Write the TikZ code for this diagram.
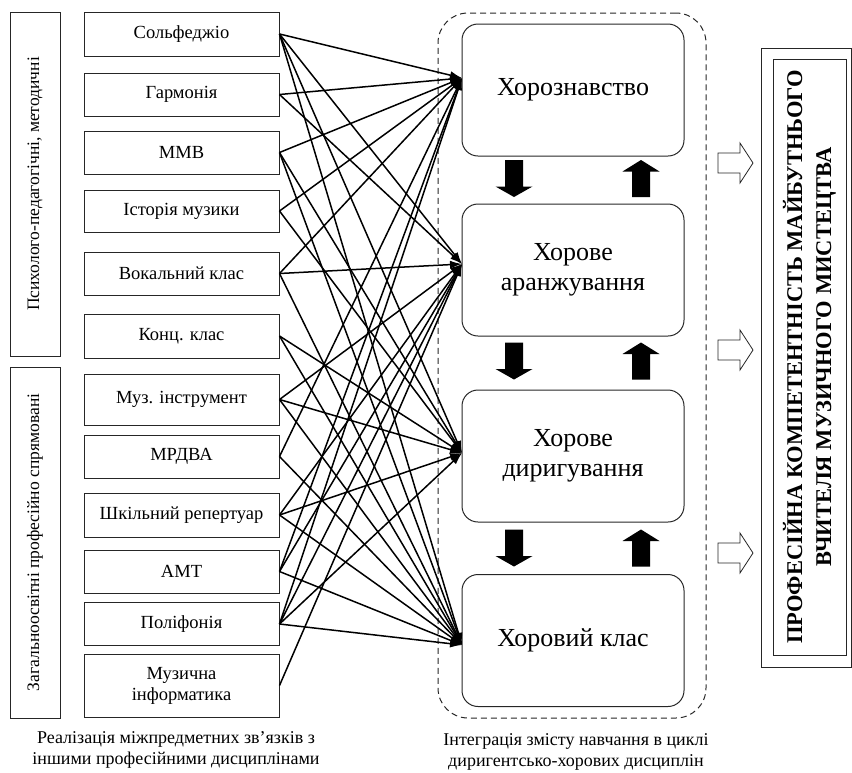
\documentclass[tikz,border=0pt]{standalone}
\usepackage{fontspec}
\setmainfont{Liberation Serif}
\usetikzlibrary{arrows.meta}

\begin{document}
\begin{tikzpicture}[x=1pt,y=-1pt,
    >={Latex[length=12pt,width=8pt]},
    subj/.style={draw=black!85, line width=1pt, minimum width=195pt, inner sep=2pt,
        align=center, font=\fontsize{18.5}{21}\selectfont},
    group/.style={draw=black!85, line width=1pt, rotate=90, minimum height=50pt,
        inner sep=2pt, font=\fontsize{17.5}{20}\selectfont},
    course/.style={draw=black!85, line width=1pt, rounded corners=16pt, minimum width=222pt,
        minimum height=132pt, align=center, font=\fontsize{26}{29.5}\selectfont},
    link/.style={->, line width=1.5pt},
    blockdown/.pic={\fill[black] (-9,-18.5) -- (9,-18.5) -- (9,8) -- (18.5,8) -- (0,18.5)
        -- (-18.5,8) -- (-9,8) -- cycle;},
    blockup/.pic={\fill[black] (-9,18.5) -- (9,18.5) -- (9,-7) -- (18.5,-7) -- (0,-18.5)
        -- (-18.5,-7) -- (-9,-7) -- cycle;},
    hollow/.pic={\draw[draw=black!85, fill=white, line width=0.8pt] (-17.5,-10) -- (4.5,-10)
        -- (4.5,-20) -- (17.5,0) -- (4.5,20) -- (4.5,10) -- (-17.5,10) -- cycle;},
    caption/.style={align=center, font=\fontsize{18}{21}\selectfont}]
    \useasboundingbox (0,0) rectangle (852,772);

    % groups of disciplines
    \node[group, minimum width=344pt] (grp1) at (35,184) {Психолого-педагогічні, методичні};
    \node[group, minimum width=351pt] (grp2) at (35,542.5) {Загальноосвітні професійно спрямовані};

    % disciplines
    \node[subj, minimum height=44pt] (s1) at (181.5,34) {Сольфеджіо};
    \node[subj, minimum height=43pt] (s2) at (181.5,94.5) {Гармонія};
    \node[subj, minimum height=43pt] (s3) at (181.5,152.5) {ММВ};
    \node[subj, minimum height=42pt] (s4) at (181.5,211) {Історія музики};
    \node[subj, minimum height=43pt] (s5) at (181.5,273.5) {Вокальний клас};
    \node[subj, minimum height=44pt] (s6) at (181.5,336) {Конц. клас};
    \node[subj, minimum height=51pt] (s7) at (181.5,399.5) {Муз. інструмент};
    \node[subj, minimum height=43pt] (s8) at (181.5,456.5) {МРДВА};
    \node[subj, minimum height=44pt] (s9) at (181.5,515) {Шкільний репертуар};
    \node[subj, minimum height=43pt] (s10) at (181.5,571.5) {АМТ};
    \node[subj, minimum height=43pt] (s11) at (181.5,624) {Поліфонія};
    \node[subj, minimum height=63pt] (s12) at (181.5,685.5) {Музична\\інформатика};

    % choral cycle
    \node[draw=black!85, dashed, dash pattern=on 6pt off 4pt, line width=1pt, rounded corners=30pt,
        minimum width=268pt, minimum height=705pt] (cycle) at (572,365.5) {};
    \node[course] (c1) at (573,90) {Хорознавство};
    \node[course] (c2) at (573,270) {Хорове\\аранжування};
    \node[course] (c3) at (573,456) {Хорове\\диригування};
    \node[course] (c4) at (573,640.5) {Хоровий клас};

    \coordinate (in1) at (462,78);
    \coordinate (in2) at (462,264);
    \coordinate (in3) at (462,453);
    \coordinate (in4) at (462,645);

    \pic (d1) at (514,178.5) {blockdown};
    \pic (u1) at (641,178.5) {blockup};
    \pic (d2) at (514,361) {blockdown};
    \pic (u2) at (641,361) {blockup};
    \pic (d3) at (514,548) {blockdown};
    \pic (u3) at (641,548) {blockup};

    % links
    \draw[link] (s1.east) -- (in1); \draw[link] (s1.east) -- (in2);
    \draw[link] (s1.east) -- (in3); \draw[link] (s1.east) -- (in4);
    \draw[link] (s2.east) -- (in1); \draw[link] (s2.east) -- (in2);
    \draw[link] (s3.east) -- (in1); \draw[link] (s3.east) -- (in3);
    \draw[link] (s3.east) -- (in4);
    \draw[link] (s4.east) -- (in1); \draw[link] (s4.east) -- (in3);
    \draw[link] (s5.east) -- (in1); \draw[link] (s5.east) -- (in2);
    \draw[link] (s5.east) -- (in4);
    \draw[link] (s6.east) -- (in3); \draw[link] (s6.east) -- (in4);
    \draw[link] (s7.east) -- (in2); \draw[link] (s7.east) -- (in3);
    \draw[link] (s7.east) -- (in4);
    \draw[link] (s8.east) -- (in1); \draw[link] (s8.east) -- (in4);
    \draw[link] (s9.east) -- (in2); \draw[link] (s9.east) -- (in3);
    \draw[link] (s9.east) -- (in4);
    \draw[link] (s10.east) -- (in1); \draw[link] (s10.east) -- (in2);
    \draw[link] (s10.east) -- (in4);
    \draw[link] (s11.east) -- (in1); \draw[link] (s11.east) -- (in2);
    \draw[link] (s11.east) -- (in3); \draw[link] (s11.east) -- (in4);
    \draw[link] (s12.east) -- (in2);

    % result
    \pic (o1) at (735.5,163) {hollow};
    \pic (o2) at (735.5,350) {hollow};
    \pic (o3) at (735.5,553) {hollow};
    \node[draw=black!85, line width=1pt, minimum width=90pt, minimum height=619pt] (res) at (806,357.5) {};
    \node[draw=black!85, line width=1pt, minimum width=73pt, minimum height=596pt] (resin) at (809.5,357) {};
    \node[rotate=90, align=center, font=\fontsize{22.5}{29}\selectfont\bfseries] (comp) at (resin)
        {ПРОФЕСІЙНА КОМПЕТЕНТНІСТЬ МАЙБУТНЬОГО\\ВЧИТЕЛЯ МУЗИЧНОГО МИСТЕЦТВА};

    \node[caption] (cap1) at (176,750) {Реалізація міжпредметних зв’язків з\\іншими професійними дисциплінами};
    \node[caption] (cap2) at (576,752) {Інтеграція змісту навчання в циклі\\диригентсько-хорових дисциплін};
\end{tikzpicture}
\end{document}
